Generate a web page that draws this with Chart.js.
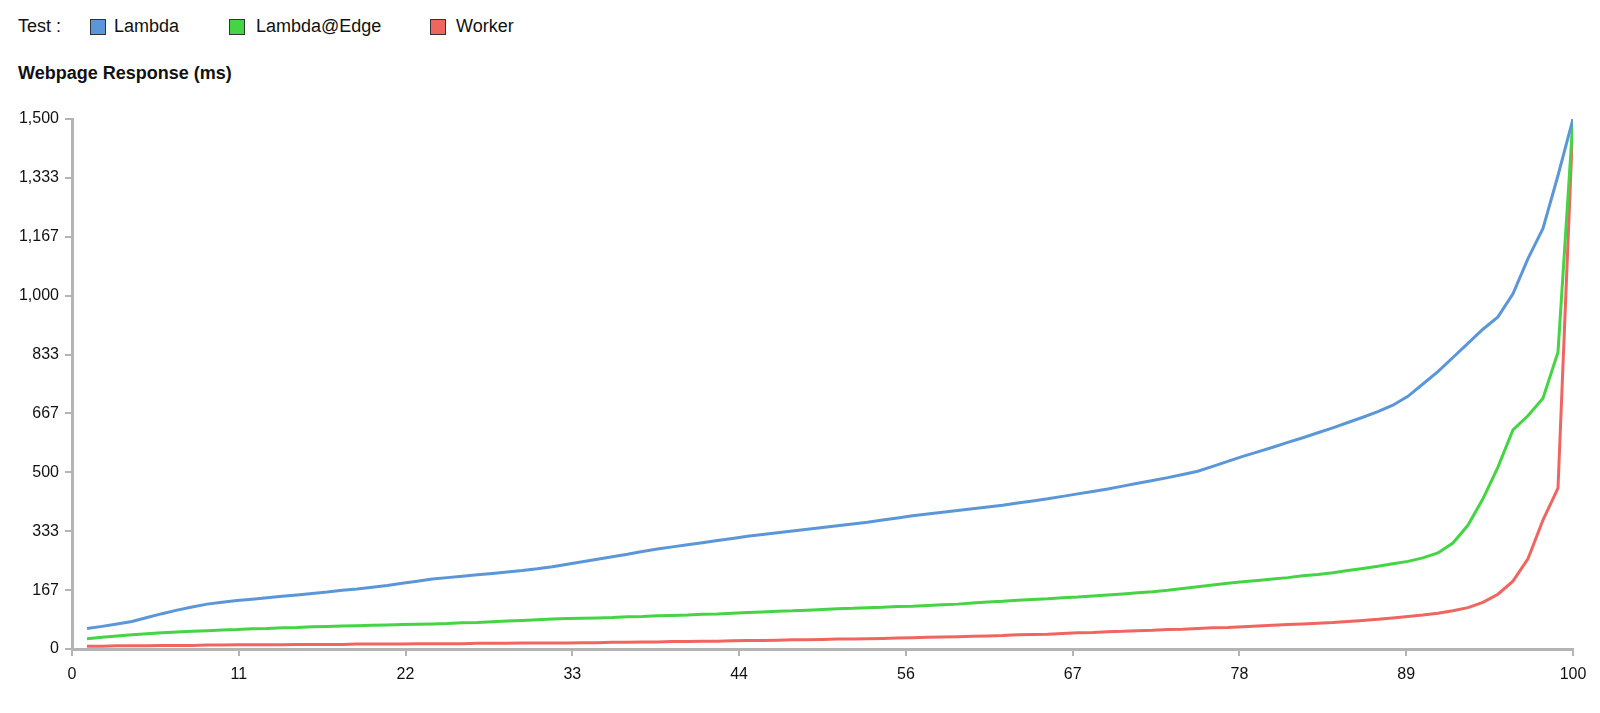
<!DOCTYPE html>
<html lang="en">
<head>
    <meta charset="UTF-8">
    <title>Webpage Response</title>
    <script src="https://cdn.jsdelivr.net/npm/chart.js"></script>
    <style>
        html, body { margin: 0; padding: 0; background: #fff; }
        body { width: 1600px; height: 713px; position: relative; overflow: hidden;
               font-family: "Liberation Sans", Arial, sans-serif; color: #111; }
        .legend { position: absolute; left: 18px; top: 16px; font-size: 18px; line-height: 21px; }
        .legend span { position: absolute; white-space: nowrap; top: 0; }
        .swatch { position: absolute; top: 3px; width: 16px; height: 16px; box-sizing: border-box;
                  border: 1px solid #333; }
        .title { position: absolute; left: 18px; top: 63px; font-size: 18px; line-height: 21px; font-weight: bold; }
        #wrap { position: absolute; left: 0; top: 0; width: 1600px; height: 713px; }
    </style>
</head>
<body>
    <div class="legend">
        <span style="left:0">Test :</span>
        <div class="swatch" style="left:72px;background:#5b97d8"></div>
        <span style="left:96px">Lambda</span>
        <div class="swatch" style="left:211px;background:#44d444"></div>
        <span style="left:238px">Lambda@Edge</span>
        <div class="swatch" style="left:412px;background:#f06560"></div>
        <span style="left:438px">Worker</span>
    </div>
    <div class="title">Webpage Response (ms)</div>
    <div id="wrap"><canvas id="chart"></canvas></div>

    <script>
        // percentile buckets
        const percentiles = [
            1, 2, 3, 4, 5, 6, 7, 8, 9, 10, 11, 12, 13, 14, 15, 16, 17, 18, 19, 20,
            21, 22, 23, 24, 25, 26, 27, 28, 29, 30, 31, 32, 33, 34, 35, 36, 37, 38, 39, 40,
            41, 42, 43, 44, 45, 46, 47, 48, 49, 50, 51, 52, 53, 54, 55, 56, 57, 58, 59, 60,
            61, 62, 63, 64, 65, 66, 67, 68, 69, 70, 71, 72, 73, 74, 75, 76, 77, 78, 79, 80,
            81, 82, 83, 84, 85, 86, 87, 88, 89, 90, 91, 92, 93, 94, 95, 96, 97, 98, 99, 100
        ];

        const lambda = [
            58, 64, 71, 78, 89, 100, 110, 119, 127, 132, 137, 141, 145, 149, 153, 157, 161, 166, 170, 175,
            180, 186, 192, 198, 202, 206, 210, 214, 218, 222, 227, 233, 240, 247, 254, 261, 268, 276, 283, 289,
            295, 301, 307, 313, 319, 324, 329, 334, 339, 344, 349, 354, 359, 365, 371, 377, 382, 387, 392, 397,
            402, 407, 413, 419, 425, 432, 439, 446, 453, 461, 469, 477, 485, 494, 503, 517, 531, 545, 558, 571,
            585, 598, 612, 626, 641, 656, 672, 690, 715, 750, 785, 825, 865, 905, 940, 1005, 1105, 1190, 1340, 1500
        ];

        const lambdaEdge = [
            29, 33, 37, 40, 43, 46, 48, 50, 52, 54, 55, 57, 58, 60, 61, 63, 64, 65, 66, 67,
            68, 69, 70, 71, 72, 74, 75, 77, 79, 81, 83, 85, 86, 87, 88, 89, 91, 92, 94, 95,
            96, 98, 99, 101, 103, 105, 107, 108, 110, 112, 114, 115, 117, 118, 120, 121, 123, 125, 127, 130,
            133, 135, 138, 140, 142, 145, 147, 150, 153, 156, 159, 162, 166, 171, 176, 181, 186, 190, 194, 198,
            202, 207, 211, 216, 222, 228, 234, 241, 248, 258, 272, 300, 350, 425, 515, 620, 660, 710, 840, 1500
        ];

        const worker = [
            8, 8, 9, 9, 9, 10, 10, 10, 11, 11, 12, 12, 12, 12, 13, 13, 13, 13, 14, 14,
            14, 14, 15, 15, 15, 15, 16, 16, 16, 17, 17, 17, 17, 18, 18, 19, 19, 20, 20, 21,
            21, 22, 22, 23, 24, 24, 25, 26, 26, 27, 28, 28, 29, 30, 31, 32, 33, 34, 35, 36,
            37, 38, 40, 41, 42, 44, 46, 47, 49, 50, 52, 53, 55, 56, 58, 60, 61, 63, 65, 67,
            69, 71, 73, 75, 78, 81, 84, 88, 92, 96, 101, 108, 117, 132, 155, 192, 255, 365, 455, 1500
        ];

        const xTicks = [0, 11.11, 22.22, 33.33, 44.44, 55.56, 66.67, 77.78, 88.89, 100];
        const xTickLabels = ['0', '11', '22', '33', '44', '56', '67', '78', '89', '100'];
        const yTicks = [0, 166.67, 333.33, 500, 666.67, 833.33, 1000, 1166.67, 1333.33, 1500];
        const yTickLabels = ['0', '167', '333', '500', '667', '833', '1,000', '1,167', '1,333', '1,500'];

        function pairs(values) {
            return values.map((v, i) => ({ x: percentiles[i], y: v }));
        }

        const axisColor = '#b4b4b4';
        const tickFont = { family: '"Liberation Sans", Arial, sans-serif', size: 16 };

        new Chart(document.getElementById('chart'), {
            type: 'line',
            data: {
                datasets: [
                    { label: 'Lambda', data: pairs(lambda), borderColor: '#5b97d8' },
                    { label: 'Lambda@Edge', data: pairs(lambdaEdge), borderColor: '#44d444' },
                    { label: 'Worker', data: pairs(worker), borderColor: '#f06560' }
                ]
            },
            options: {
                responsive: true,
                maintainAspectRatio: false,
                animation: false,
                layout: { padding: { top: 119, right: 27, left: 0, bottom: 0 } },
                elements: {
                    line: { borderWidth: 3, tension: 0 },
                    point: { radius: 0 }
                },
                scales: {
                    x: {
                        type: 'linear',
                        min: 0,
                        max: 100,
                        afterBuildTicks: s => { s.ticks = xTicks.map(v => ({ value: v })); },
                        afterFit: s => { s.height = 64; },
                        ticks: {
                            color: '#111',
                            font: tickFont,
                            padding: 9,
                            maxRotation: 0,
                            autoSkip: false,
                            callback: (v, i) => xTickLabels[i]
                        },
                        grid: { drawOnChartArea: false, color: axisColor, lineWidth: 2, tickLength: 7 },
                        border: { color: axisColor, width: 3 }
                    },
                    y: {
                        min: 0,
                        max: 1500,
                        afterBuildTicks: s => { s.ticks = yTicks.map(v => ({ value: v })); },
                        afterFit: s => { s.width = 72; },
                        ticks: {
                            color: '#111',
                            font: tickFont,
                            padding: 6,
                            autoSkip: false,
                            callback: (v, i) => yTickLabels[i]
                        },
                        grid: { drawOnChartArea: false, color: axisColor, lineWidth: 2, tickLength: 7 },
                        border: { color: axisColor, width: 3 }
                    }
                },
                plugins: {
                    legend: { display: false },
                    tooltip: { enabled: false }
                }
            }
        });
    </script>
</body>
</html>
